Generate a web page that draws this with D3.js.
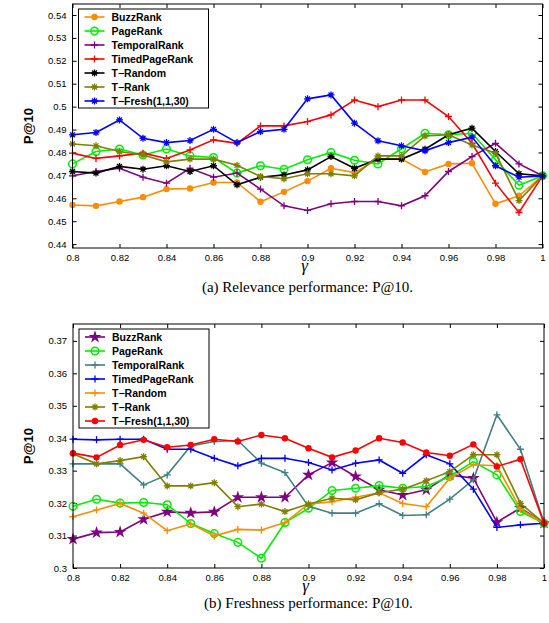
<!DOCTYPE html>
<html><head><meta charset="utf-8">
<script src="https://cdn.jsdelivr.net/npm/d3@7"></script>
<style>body{margin:0;background:#fff}</style>
</head><body>
<svg id="c" width="549" height="623"></svg>
<script>
const gammas = d3.range(21).map(i => +(0.8 + i * 0.01).toFixed(2));

// (a) relevance P@10
const relBuzz = [.4571,.4567,.4586,.4605,.4640,.4643,.4669,.4669,.4585,.4628,.4675,.4731,.4712,.4771,.4771,.4715,.4750,.4753,.4576,.4611,.4698];
const relPage = [.4750,.4804,.4815,.4789,.4815,.4785,.4778,.4710,.4742,.4727,.4768,.4800,.4766,.4750,.4816,.4884,.4877,.4884,.4768,.4657,.4698];
const relTemporal = [.4698,.4717,.4731,.4692,.4666,.4731,.4692,.4710,.4640,.4567,.4547,.4576,.4586,.4586,.4567,.4611,.4717,.4782,.4840,.4750,.4698];
const relTimed = [.4797,.4774,.4785,.4797,.4774,.4811,.4855,.4840,.4916,.4916,.4935,.4964,.5029,.5000,.5029,.5029,.4957,.4840,.4666,.4538,.4698];
const relTRandom = [.4717,.4710,.4739,.4727,.4742,.4717,.4742,.4659,.4692,.4702,.4724,.4782,.4731,.4771,.4771,.4814,.4877,.4906,.4804,.4707,.4698];
const relTRank = [.4837,.4829,.4804,.4789,.4759,.4771,.4771,.4744,.4695,.4685,.4707,.4707,.4698,.4785,.4785,.4872,.4877,.4833,.4797,.4590,.4698];
const relTFresh = [.4877,.4887,.4942,.4862,.4843,.4852,.4901,.4843,.4891,.4901,.5034,.5051,.4928,.4851,.4829,.4807,.4843,.4867,.4742,.4692,.4698];

// (b) freshness P@10
const frBuzz = [.3089,.3109,.3111,.3150,.3173,.3170,.3173,.3218,.3218,.3218,.3287,.3325,.3282,.3241,.3225,.3241,.3287,.3277,.3141,.3185,.3138];
const frPage = [.3190,.3212,.3200,.3202,.3195,.3137,.3106,.3079,.3030,.3140,.3184,.3239,.3246,.3254,.3246,.3251,.3282,.3328,.3287,.3174,.3138];
const frTemporal = [.3321,.3321,.3321,.3256,.3287,.3376,.3390,.3393,.3323,.3294,.3190,.3169,.3169,.3198,.3162,.3164,.3212,.3272,.3472,.3366,.3138];
const frTimed = [.3397,.3395,.3397,.3397,.3366,.3366,.3338,.3315,.3338,.3338,.3325,.3302,.3323,.3333,.3292,.3349,.3321,.3243,.3125,.3133,.3138];
const frTRandom = [.3158,.3179,.3199,.3169,.3115,.3136,.3099,.3119,.3117,.3140,.3197,.3204,.3218,.3232,.3199,.3189,.3277,.3318,.3315,.3181,.3138];
const frTRank = [.3352,.3321,.3331,.3343,.3253,.3253,.3263,.3189,.3197,.3174,.3197,.3215,.3210,.3232,.3243,.3269,.3297,.3349,.3349,.3199,.3138];
const frTFresh = [.3354,.3341,.3379,.3395,.3372,.3379,.3397,.3390,.3410,.3400,.3369,.3341,.3362,.3400,.3387,.3356,.3346,.3381,.3313,.3335,.3138];

const names = ['BuzzRank','PageRank','TemporalRank','TimedPageRank','T\u2212Random','T\u2212Rank','T\u2212Fresh(1,1,30)'];
const relTicks = [0.44,0.45,0.46,0.47,0.48,0.49,0.5,0.51,0.52,0.53,0.54];
const frTicks = [0.3,0.31,0.32,0.33,0.34,0.35,0.36,0.37];

const svg = d3.select('#c');

function marker(g, type, color, x, y) {
  if (type === 'dot') g.append('circle').attr('cx', x).attr('cy', y).attr('r', 3.2).attr('fill', color);
  else if (type === 'ring') g.append('circle').attr('cx', x).attr('cy', y).attr('r', 3.8).attr('fill', 'none').attr('stroke', color).attr('stroke-width', 1.5);
  else if (type === 'star') g.append('path').attr('transform', `translate(${x},${y})`).attr('d', d3.symbol(d3.symbolStar, 50)()).attr('fill', color);
  else {
    const s = 3.5, p = g.append('path').attr('stroke', color).attr('stroke-width', 1.3).attr('fill', 'none');
    let d = `M${x-s},${y}H${x+s}M${x},${y-s}V${y+s}`;
    if (type === 'ast') d += `M${x-s*.7},${y-s*.7}L${x+s*.7},${y+s*.7}M${x-s*.7},${y+s*.7}L${x+s*.7},${y-s*.7}`;
    p.attr('d', d);
  }
}

function panel(cfg) {
  const x = d3.scaleLinear().domain([0.8, 1]).range([cfg.left, cfg.right]);
  const y = d3.scaleLinear().domain(cfg.yDomain).range([cfg.bottom, cfg.top]);
  const g = svg.append('g');
  const fmt = v => String(+v.toFixed(2));

  g.append('g').attr('transform', `translate(0,${cfg.bottom})`)
    .call(d3.axisBottom(x).tickValues(gammas.filter((d, i) => i % 2 === 0)).tickFormat(fmt).tickSizeInner(-4).tickSizeOuter(0).tickPadding(6))
    .call(a => { a.select('.domain').remove(); a.selectAll('text').attr('font-size', 9.5).attr('font-family', 'Liberation Sans, Arial'); });
  g.append('g').attr('transform', `translate(0,${cfg.top})`)
    .call(d3.axisTop(x).tickValues(gammas.filter((d, i) => i % 2 === 0)).tickFormat('').tickSizeInner(-4).tickSizeOuter(0))
    .call(a => a.select('.domain').remove());
  g.append('g').attr('transform', `translate(${cfg.left},0)`)
    .call(d3.axisLeft(y).tickValues(cfg.ticks).tickFormat(fmt).tickSizeInner(-4).tickSizeOuter(0).tickPadding(6))
    .call(a => { a.select('.domain').remove(); a.selectAll('text').attr('font-size', 9.5).attr('font-family', 'Liberation Sans, Arial'); });
  g.append('g').attr('transform', `translate(${cfg.right},0)`)
    .call(d3.axisRight(y).tickValues(cfg.ticks).tickFormat('').tickSizeInner(-4).tickSizeOuter(0))
    .call(a => a.select('.domain').remove());

  const line = d3.line().x((d, i) => x(gammas[i])).y(d => y(d));
  cfg.series.forEach(s => {
    g.append('path').attr('d', line(s.values)).attr('fill', 'none').attr('stroke', s.color).attr('stroke-width', 1.6);
    s.values.forEach((v, i) => marker(g, s.marker, s.color, x(gammas[i]), y(v)));
  });

  g.append('rect').attr('x', cfg.left).attr('y', cfg.top).attr('width', cfg.right - cfg.left).attr('height', cfg.bottom - cfg.top)
    .attr('fill', 'none').attr('stroke', '#000').attr('stroke-width', 1);

  // legend
  const lx = cfg.left + 6, ly = cfg.top + 5;
  g.append('rect').attr('x', lx).attr('y', ly).attr('width', 130).attr('height', 99).attr('fill', '#fff').attr('stroke', '#000').attr('stroke-width', 1);
  cfg.series.forEach((s, i) => {
    const yy = ly + 8 + i * 14;
    g.append('line').attr('x1', lx + 6).attr('x2', lx + 26).attr('y1', yy).attr('y2', yy).attr('stroke', s.color).attr('stroke-width', 1.6);
    marker(g, s.marker, s.color, lx + 16, yy);
    g.append('text').attr('x', lx + 33).attr('y', yy + 4).text(names[i])
      .attr('font-size', 10.5).attr('font-weight', 'bold').attr('font-family', 'Liberation Sans, Arial');
  });

  svg.append('text').attr('transform', `translate(${cfg.left - 40},${(cfg.top + cfg.bottom) / 2}) rotate(-90)`)
    .attr('text-anchor', 'middle').attr('font-size', 13).attr('font-weight', 'bold').attr('font-family', 'Liberation Sans, Arial').text('P@10');
  svg.append('text').attr('x', (cfg.left + cfg.right) / 2 - 3).attr('y', cfg.bottom + 23).attr('text-anchor', 'middle')
    .attr('font-size', 17).attr('font-style', 'italic').attr('font-family', 'Liberation Serif, Times New Roman').text('\u03b3');
  svg.append('text').attr('x', (cfg.left + cfg.right) / 2).attr('y', cfg.bottom + cfg.capOff).attr('text-anchor', 'middle')
    .attr('font-size', 15).attr('font-family', 'Liberation Serif, Times New Roman').text(cfg.caption);
}

panel({
  left: 72.5, right: 542.5, top: 4, bottom: 248, yDomain: [0.4383, 0.5448], ticks: relTicks,
  caption: '(a) Relevance performance: P@10.', capOff: 44,
  series: [
    { values: relBuzz, color: '#ff8c00', marker: 'dot' },
    { values: relPage, color: '#00ee00', marker: 'ring' },
    { values: relTemporal, color: '#800080', marker: 'plus' },
    { values: relTimed, color: '#ff0000', marker: 'plus' },
    { values: relTRandom, color: '#000000', marker: 'ast' },
    { values: relTRank, color: '#808000', marker: 'ast' },
    { values: relTFresh, color: '#0000ff', marker: 'ast' }
  ]
});

panel({
  left: 73, right: 544, top: 324, bottom: 568, yDomain: [0.3, 0.3752], ticks: frTicks,
  caption: '(b) Freshness performance: P@10.', capOff: 40,
  series: [
    { values: frBuzz, color: '#800080', marker: 'star' },
    { values: frPage, color: '#00ee00', marker: 'ring' },
    { values: frTemporal, color: '#408080', marker: 'plus' },
    { values: frTimed, color: '#0000ff', marker: 'plus' },
    { values: frTRandom, color: '#ff8c00', marker: 'plus' },
    { values: frTRank, color: '#808000', marker: 'ast' },
    { values: frTFresh, color: '#ff0000', marker: 'dot' }
  ]
});
</script>
</body></html>
